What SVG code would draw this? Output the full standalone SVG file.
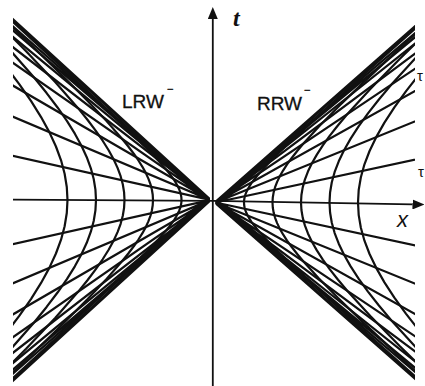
<svg xmlns="http://www.w3.org/2000/svg" xmlns:xlink="http://www.w3.org/1999/xlink" width="425" height="386" viewBox="0 0 425 386">
<style>
.ln{fill:none;stroke:#111;stroke-width:2.2;vector-effect:non-scaling-stroke;stroke-linejoin:round;stroke-linecap:round}
.cone{fill:none;stroke:#111;stroke-width:3.2;vector-effect:non-scaling-stroke;stroke-linecap:round}
.ax{fill:none;stroke:#111;stroke-width:1.8}
.lbl{font-family:"Liberation Sans",Arial,sans-serif;font-size:19px;fill:#111;stroke:#111;stroke-width:0.3}
.frag{font-family:"Liberation Sans",Arial,sans-serif;font-size:15px;fill:#111}
</style>
<defs>
<marker id="ah" viewBox="0 0 12 10" refX="0" refY="5" markerWidth="12" markerHeight="10" markerUnits="userSpaceOnUse" orient="auto"><path d="M0,0 L12,5 L0,10 z" fill="#111"/></marker>
<path id="hyp" class="ln" d="M7.4735,-7.4063 L5.0372,-4.9370 L3.7622,-3.6269 L3.1075,-2.9422 L2.5775,-2.3756 L2.1509,-1.9043 L1.8107,-1.5095 L1.5431,-1.1752 L1.4331,-1.0265 L1.3374,-0.8881 L1.2552,-0.7586 L1.1855,-0.6367 L1.1276,-0.5211 L1.0811,-0.4108 L1.0453,-0.3045 L1.0201,-0.2013 L1.0050,-0.1002 L1,0 L1.0050,0.1002 L1.0201,0.2013 L1.0453,0.3045 L1.0811,0.4108 L1.1276,0.5211 L1.1855,0.6367 L1.2552,0.7586 L1.3374,0.8881 L1.4331,1.0265 L1.5431,1.1752 L1.8107,1.5095 L2.1509,1.9043 L2.5775,2.3756 L3.1075,2.9422 L3.7622,3.6269 L5.0372,4.9370 L7.4735,7.4063"/>
<g id="wedge">
<line class="cone" x1="0" y1="0" x2="220" y2="220"/>
<line class="cone" x1="0" y1="0" x2="220" y2="-220"/>
<path class="ln" d="M0,0 L220,53.88 M0,0 L220,101.67 M0,0 L220,139.73 M0,0 L220,167.55 M0,0 L220,186.62 M0,0 L220,199.13 M0,0 L220,207.10 M0,0 L220,212.09 M0,0 L220,-53.88 M0,0 L220,-101.67 M0,0 L220,-139.73 M0,0 L220,-167.55 M0,0 L220,-186.62 M0,0 L220,-199.13 M0,0 L220,-207.10 M0,0 L220,-212.09"/>
<use href="#hyp" xlink:href="#hyp" transform="scale(28.5)"/>
<use href="#hyp" xlink:href="#hyp" transform="scale(57)"/>
<use href="#hyp" xlink:href="#hyp" transform="scale(85.5)"/>
<use href="#hyp" xlink:href="#hyp" transform="scale(114)"/>
<use href="#hyp" xlink:href="#hyp" transform="scale(142.5)"/>
</g>
<clipPath id="cl"><rect x="0" y="-230" width="197" height="460"/></clipPath>
<clipPath id="cr"><rect x="0" y="-230" width="199.5" height="460"/></clipPath>
</defs>
<g id="left-wedge" transform="translate(210 200) scale(-1 -0.914)"><g clip-path="url(#cl)"><use href="#wedge" xlink:href="#wedge"/></g></g>
<g id="right-wedge" transform="translate(215.5 202.5) scale(1 -0.88)"><g clip-path="url(#cr)"><use href="#wedge" xlink:href="#wedge"/></g></g>
<g id="axes">
<path class="ax" d="M13,199.6 L213,200.8 L412.5,204.4" marker-end="url(#ah)"/>
<path class="ax" d="M212.8,386 L212.8,19" marker-end="url(#ah)"/>
</g>
<g id="labels">
<text class="lbl" x="122" y="108">LRW<tspan dx="3" dy="-15" font-size="11">−</tspan></text>
<text class="lbl" x="257" y="110">RRW<tspan dx="2" dy="-16" font-size="11">−</tspan></text>
<text x="233" y="26" style="font-family:'Liberation Serif','Times New Roman',serif;font-style:italic;font-weight:bold;font-size:24px;fill:#111">t</text>
<text x="397" y="227" style="font-family:'Liberation Sans',Arial,sans-serif;font-style:italic;font-size:22px;fill:#111">x</text>
<text class="frag" x="417" y="81">τ</text>
<text class="frag" x="418" y="177">τ</text>
</g>
</svg>
